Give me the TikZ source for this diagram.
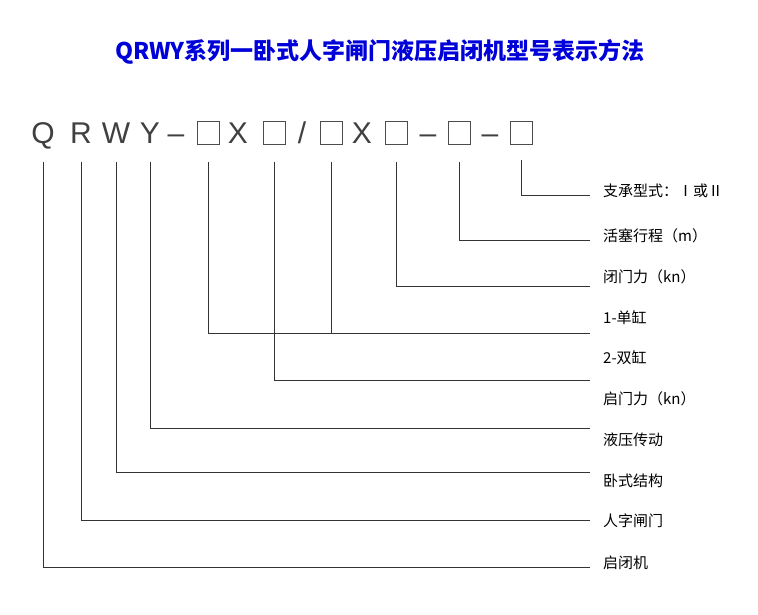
\documentclass[tikz,border=0pt]{standalone}
\usepackage{fontspec}
\setmainfont{Liberation Sans}
\newfontfamily\cjk{Noto Sans CJK SC}
\usetikzlibrary{positioning,calc}

\begin{document}
\begin{tikzpicture}[x=1pt,y=-1pt,
    code/.style={font=\fontsize{30}{30}\selectfont, text=black!75, inner sep=0pt, anchor=base},
    slot/.style={draw=black!70, line width=0.8pt, minimum width=22pt, minimum height=23pt, inner sep=0pt},
    desc/.style={font=\cjk\fontsize{15}{16}\selectfont, anchor=west, inner sep=0pt},
    link/.style={line width=0.7pt, black!80}]
    \useasboundingbox (0,0) rectangle (758,615);
    % Title
    \node[font=\cjk\bfseries\fontsize{23}{24}\selectfont, text=blue!85!black] (title) at (380,52) {QRWY系列一卧式人字闸门液压启闭机型号表示方法};

    % Model code letters
    \foreach \n/\x/\t in {cQ/43/Q, cR/81/R, cW/116/W, cY/150/Y, s1/176/–, s2/238/X, s3/302/{/}, s4/362/X, s5/428/–, s6/490/–}
        \node[code] (\n) at (\x,144) {\t};
    % Empty slots
    \foreach \n/\x in {b1/208, b2/274, b3/331, b4/396, b5/459, b6/521}
        \node[slot] (\n) at (\x,133) {};

    % Descriptions
    \node[desc] (lb6) at (603,191) {支承型式：Ⅰ或Ⅱ};
    \node[desc] (lb5) at (603,236) {活塞行程（m）};
    \node[desc] (lb4) at (603,277) {闭门力（kn）};
    \node[desc] (lb1) at (603,318) {1-单缸};
    \node[desc] (lb2) at (603,358) {2-双缸};
    \node[desc] (lb0) at (603,399) {启门力（kn）};
    \node[desc] (lY) at (603,440) {液压传动};
    \node[desc] (lW) at (603,481) {卧式结构};
    \node[desc] (lR) at (603,521) {人字闸门};
    \node[desc] (lQ) at (603,563) {启闭机};

    % Line ends
    \foreach \n/\y in {b6/195, b5/240, b4/286, b1/333, b2/380, cY/428, cW/472, cR/520, cQ/567}
        \coordinate (e\n) at (590,\y);

    % Leaders
    \draw[link] (b6.south) ++(0,15) |- (eb6);
    \foreach \n in {b5, b4, b1, b2}
        \draw[link] ($(\n.south)+(0,17)$) |- (e\n);
    \foreach \n in {cY, cW, cR, cQ}
        \draw[link] (\n |- 0,162) |- (e\n);
    \draw[link] ($(b3.south)+(0,17)$) -- (b3.south |- eb1);
\end{tikzpicture}
\end{document}
